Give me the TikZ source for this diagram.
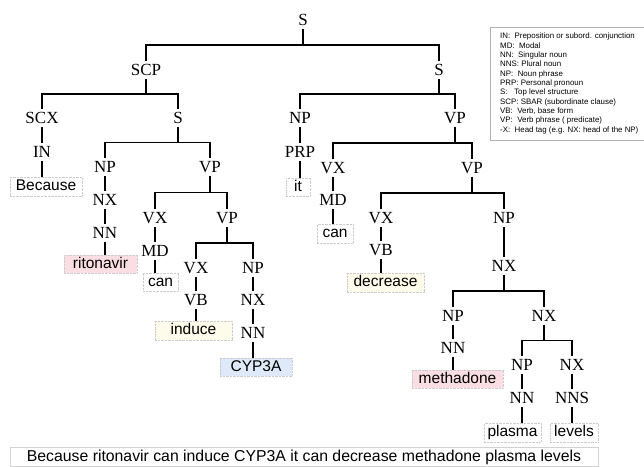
\documentclass[tikz,border=0pt]{standalone}
\usepackage{fontspec}
\setmainfont{Liberation Serif}
\setsansfont{Liberation Sans}
\usepackage{tikz}
\usetikzlibrary{calc}

\definecolor{drugpink}{RGB}{250,222,228}
\definecolor{verbyellow}{RGB}{253,251,233}
\definecolor{genblue}{RGB}{222,234,250}

\begin{document}
\begin{tikzpicture}[x=1pt,y=-1pt]
\useasboundingbox (0,0) rectangle (644,466);

\begin{scope}[every node/.style={font=\fontsize{17}{17}\selectfont,
                                 inner sep=3pt,text height=11.3pt,text depth=0pt}]
    \node (sTop) at (303,20)  {S};
    \node (scp)  at (146,70)  {SCP};
    \node (sR)   at (439,70)  {S};
    \node (scx)  at (42,118)  {SCX};
    \node (sSub) at (178,118) {S};
    \node (npR)  at (300,118) {NP};
    \node (vpR)  at (455,118) {VP};
    \node (inTag) at (42,152) {IN};
    \node (np1)  at (105,167) {NP};
    \node (vp1)  at (210,167) {VP};
    \node (nx1)  at (105,200) {NX};
    \node (nn1)  at (105,233) {NN};
    \node (vx1)  at (155,218) {VX};
    \node (vp2)  at (227,218) {VP};
    \node (md1)  at (155,251) {MD};
    \node (vx2)  at (196,268) {VX};
    \node (np2)  at (253,268) {NP};
    \node (vb1)  at (196,300) {VB};
    \node (nx2)  at (253,300) {NX};
    \node (nn2)  at (253,333) {NN};
    \node (prp)  at (300,152) {PRP};
    \node (vx3)  at (333,168) {VX};
    \node (vp3)  at (472,168) {VP};
    \node (md2)  at (333,200) {MD};
    \node (vx4)  at (381,218) {VX};
    \node (np3)  at (504,218) {NP};
    \node (vb2)  at (381,250) {VB};
    \node (nx3)  at (504,266) {NX};
    \node (np4)  at (453,316) {NP};
    \node (nx4)  at (544,316) {NX};
    \node (nn3)  at (453,348) {NN};
    \node (np5)  at (522,365) {NP};
    \node (nx5)  at (572,365) {NX};
    \node (nn4)  at (522,398) {NN};
    \node (nns)  at (572,398) {NNS};
\end{scope}

\begin{scope}[every node/.style={font=\sffamily\fontsize{15.5}{15.5}\selectfont,
                                 draw=gray!40,densely dotted,inner sep=0pt,
                                 text height=11.5pt,text depth=3pt,minimum height=18.5pt}]
    \node[minimum width=72pt] (wBecause)   at (46,186.5)  {Because};
    \node[minimum width=73pt,fill=drugpink] (wRitonavir) at (100.5,264) {ritonavir};
    \node[minimum width=35pt] (wCan1)      at (160.5,282) {can};
    \node[minimum width=77pt,fill=verbyellow] (wInduce) at (193.5,330.5) {induce};
    \node[minimum width=72pt,fill=genblue] (wCyp) at (256,367) {CYP3A};
    \node[minimum width=24pt] (wIt)        at (298,187)   {it};
    \node[minimum width=36pt] (wCan2)      at (335,233.5) {can};
    \node[minimum width=77pt,fill=verbyellow] (wDecrease) at (385.5,282.5) {decrease};
    \node[minimum width=91pt,fill=drugpink] (wMethadone) at (457.5,379) {methadone};
    \node[minimum width=57pt] (wPlasma)    at (512.5,432.5) {plasma};
    \node[minimum width=48pt] (wLevels)    at (574,432.5) {levels};
\end{scope}

% branching edges
\begin{scope}[line width=1.1pt]
    \foreach \p/\c in {sTop/scp,sTop/sR,scp/scx,scp/sSub,sR/npR,sR/vpR,
                       sSub/np1,sSub/vp1,vp1/vx1,vp1/vp2,vp2/vx2,vp2/np2,
                       vpR/vx3,vpR/vp3,vp3/vx4,vp3/np3,
                       nx3/np4,nx3/nx4,nx4/np5,nx4/nx5}
        \draw (\p.south) |- ($(\p.south)!0.5!(\c.north)$) -| (\c.north);
    % single chains
    \foreach \p/\c in {scx/inTag,inTag/wBecause,np1/nx1,nx1/nn1,nn1/wRitonavir,
                       vx1/md1,md1/wCan1,vx2/vb1,vb1/wInduce,np2/nx2,nx2/nn2,nn2/wCyp,
                       npR/prp,prp/wIt,vx3/md2,md2/wCan2,vx4/vb2,vb2/wDecrease,
                       np3/nx3,np4/nn3,nn3/wMethadone,np5/nn4,nn4/wPlasma,
                       nx5/nns,nns/wLevels}
        \draw (\p.south) -- (\p.south |- \c.north);
\end{scope}

% sentence
\node[draw=gray!35,line width=0.8pt,minimum width=588pt,minimum height=19pt,inner sep=0pt,
      font=\sffamily\fontsize{15.8}{15.8}\selectfont] (sentence) at (304,457)
    {Because ritonavir can induce CYP3A it can decrease methadone plasma levels};

% legend
\node[draw=gray!60,anchor=north west,align=left,inner xsep=10pt,inner ysep=6pt,
      font=\sffamily\fontsize{7.9}{9.33}\selectfont] (legend) at (490,27)
    {IN:\ \ Preposition or subord. conjunction\\
     MD:\ \ Modal\\
     NN:\ \ Singular noun\\
     NNS: Plural noun\\
     NP:\ \ Noun phrase\\
     PRP: Personal pronoun\\
     S:\ \ \ Top level structure\\
     SCP: SBAR (subordinate clause)\\
     VB:\ \ Verb, base form\\
     VP:\ \ Verb phrase ( predicate)\\
     -X:\ \ Head tag (e.g. NX: head of the NP)};
\end{tikzpicture}
\end{document}
